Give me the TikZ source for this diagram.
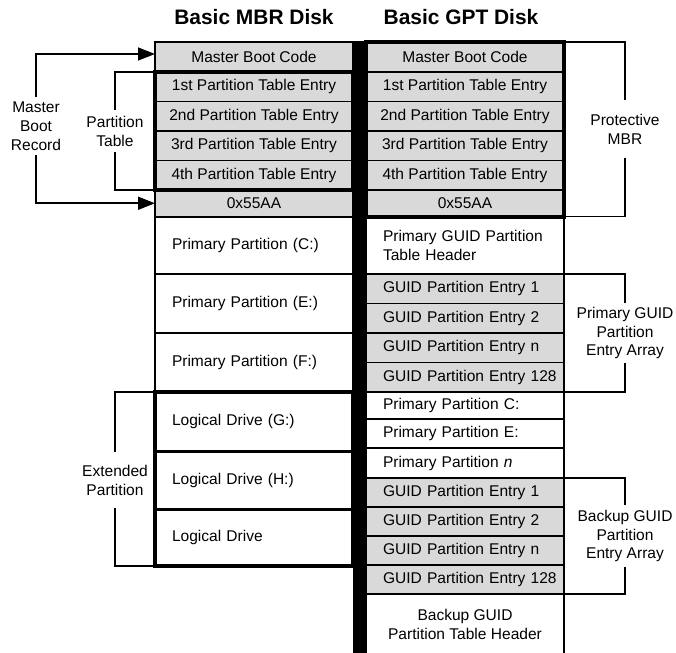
\documentclass[tikz,border=0pt]{standalone}
\usepackage{fontspec}
\setmainfont{Liberation Sans}
\usepackage{tikz}
\usetikzlibrary{positioning, arrows.meta}
\definecolor{cellgray}{HTML}{D9D9D9}
\newcommand{\cellfont}{\fontsize{15.6}{19}\selectfont}
\newcommand{\titlefont}{\fontsize{21}{25}\selectfont\bfseries}

\tikzset{
  bootcell/.style={draw, line width=1.3bp, minimum width=198bp, inner sep=0pt,
                   outer sep=0pt, align=center, font=\cellfont},
  graycell/.style={bootcell, fill=cellgray, minimum height=29.5bp},
  partcell/.style={bootcell, line width=2bp, text width=164bp, inner xsep=17bp, align=left},
  drivecell/.style={partcell, line width=3bp},
  guidcell/.style={bootcell, text width=164bp, inner xsep=17bp, align=left},
  guidgray/.style={guidcell, fill=cellgray, minimum height=29.5bp},
  groupline/.style={line width=4bp},
  arrayline/.style={line width=2.6bp},
  brackline/.style={line width=1.6bp},
  sidelabel/.style={align=center, font=\cellfont, inner sep=0pt},
}

\begin{document}
\begin{tikzpicture}[x=1bp, y=-1bp, node distance=0pt]
  \useasboundingbox (0,0) rectangle (676,653);

  \node[font=\titlefont] (mbrtitle) at (254,17) {Basic MBR Disk};
  \node[font=\titlefont] (gpttitle) at (461,17) {Basic GPT Disk};

  \node[bootcell, fill=cellgray, minimum height=30bp, anchor=north west] (mbc) at (155,42) {Master Boot Code};
  \node[graycell, below=of mbc] (me1) {1st Partition Table Entry};
  \node[graycell, below=of me1] (me2) {2nd Partition Table Entry};
  \node[graycell, below=of me2] (me3) {3rd Partition Table Entry};
  \node[graycell, below=of me3] (me4) {4th Partition Table Entry};
  \node[bootcell, fill=cellgray, minimum height=26.5bp, below=of me4] (msig) {0x55AA};
  \node[partcell, minimum height=57.5bp, below=of msig] (mpc) {Primary Partition (C:)};
  \node[partcell, minimum height=59bp, below=of mpc] (mpe) {Primary Partition (E:)};
  \node[partcell, minimum height=59bp, below=of mpe] (mpf) {Primary Partition (F:)};
  \node[drivecell, minimum height=59bp, below=of mpf] (mlg) {Logical Drive (G:)};
  \node[drivecell, minimum height=58bp, below=of mlg] (mlh) {Logical Drive (H:)};
  \node[drivecell, minimum height=57bp, below=of mlh] (mld) {Logical Drive};

  \node[bootcell, fill=cellgray, minimum height=30bp, anchor=north west] (gmbc) at (366,42) {Master Boot Code};
  \node[graycell, below=of gmbc] (ge1) {1st Partition Table Entry};
  \node[graycell, below=of ge1] (ge2) {2nd Partition Table Entry};
  \node[graycell, below=of ge2] (ge3) {3rd Partition Table Entry};
  \node[graycell, below=of ge3] (ge4) {4th Partition Table Entry};
  \node[bootcell, fill=cellgray, minimum height=26.5bp, below=of ge4] (gsig) {0x55AA};
  \node[guidcell, minimum height=57.5bp, below=of gsig] (ghdr) {Primary GUID Partition\\Table Header};
  \node[guidgray, below=of ghdr] (gg1) {GUID Partition Entry 1};
  \node[guidgray, below=of gg1] (gg2) {GUID Partition Entry 2};
  \node[guidgray, below=of gg2] (ggn) {GUID Partition Entry n};
  \node[guidgray, below=of ggn] (gg128) {\mbox{GUID Partition Entry 128}};
  \node[guidcell, minimum height=27bp, below=of gg128] (gpc) {Primary Partition C:};
  \node[guidcell, minimum height=29bp, below=of gpc] (gpe) {Primary Partition E:};
  \node[guidcell, minimum height=30bp, below=of gpe] (gpn) {Primary Partition \textit{n}};
  \node[guidgray, minimum height=29bp, below=of gpn] (gb1) {GUID Partition Entry 1};
  \node[guidgray, minimum height=29bp, below=of gb1] (gb2) {GUID Partition Entry 2};
  \node[guidgray, minimum height=29bp, below=of gb2] (gbn) {GUID Partition Entry n};
  \node[guidgray, minimum height=29bp, below=of gbn] (gb128) {\mbox{GUID Partition Entry 128}};
  \node[bootcell, minimum height=61bp, below=of gb128] (gbhdr) {Backup GUID\\Partition Table Header};

  \draw[groupline] (me1.north west) rectangle (me4.south east);
  \draw[groupline] (mlg.north west) rectangle (mld.south east);
  \draw[groupline] (gmbc.north west) rectangle (gsig.south east);
  \draw[arrayline] (gg1.north west) rectangle (gg128.south east);
  \draw[arrayline] (gb1.north west) rectangle (gb128.south east);
  \fill ([yshift=1bp]mbc.north east) rectangle (gbhdr.south west);

  \node[sidelabel, minimum height=58bp] (mbrlbl) at (36,126) {Master\\Boot\\Record};
  \draw[brackline, -{Triangle[length=17bp, width=13bp]}] (mbrlbl.north) |- ([yshift=3bp]mbc.west);
  \draw[brackline, -{Triangle[length=17bp, width=13bp]}] (mbrlbl.south) |- (msig.west);

  \node[sidelabel, minimum height=42bp] (ptlbl) at (115,131) {Partition\\Table};
  \draw[brackline] (ptlbl.north) |- (me1.north west);
  \draw[brackline] (ptlbl.south) |- (me4.south west);

  \node[sidelabel, minimum height=56bp] (extlbl) at (115,480) {Extended\\Partition};
  \draw[brackline] (extlbl.north) |- (mlg.north west);
  \draw[brackline] (extlbl.south) |- (mld.south west);

  \node[sidelabel, minimum height=58bp] (pmbrlbl) at (625,129) {Protective\\MBR};
  \draw[brackline] (pmbrlbl.north) |- (gmbc.north east);
  \draw[brackline] (pmbrlbl.south) |- (gsig.south east);

  \node[sidelabel, minimum height=59bp] (pgpelbl) at (625,333) {Primary GUID\\Partition\\Entry Array};
  \draw[brackline] (pgpelbl.north) |- (gg1.north east);
  \draw[brackline] (pgpelbl.south) |- (gg128.south east);

  \node[sidelabel, minimum height=62bp] (bgpelbl) at (625,536) {Backup GUID\\Partition\\Entry Array};
  \draw[brackline] (bgpelbl.north) |- (gb1.north east);
  \draw[brackline] (bgpelbl.south) |- (gb128.south east);
\end{tikzpicture}
\end{document}
